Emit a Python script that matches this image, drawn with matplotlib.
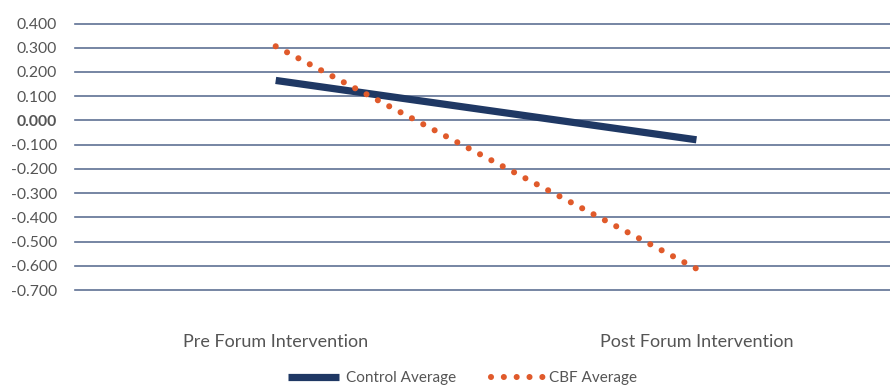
import matplotlib
matplotlib.use("Agg")
import matplotlib.pyplot as plt
from matplotlib.lines import Line2D

categories = ["Pre Forum Intervention", "Post Forum Intervention"]
control_avg = [0.165, -0.080]
cbf_avg = [0.306, -0.612]
yticks = [0.4, 0.3, 0.2, 0.1, 0.0, -0.1, -0.2, -0.3, -0.4, -0.5, -0.6, -0.7]

plt.rcParams['font.family'] = ['Lato', 'DejaVu Sans']

navy = '#1f3864'
orange = '#e05a2b'
grid_c = '#5f7194'
text_c = '#555555'

fig = plt.figure(figsize=(8.9, 3.89), dpi=100)
ax = fig.add_axes([75/890, 1-290/389, 1-75/890, (290-23.5)/389])

x = list(range(len(categories)))
ax.plot(x, control_avg, color=navy, lw=5.2, solid_capstyle='butt', zorder=3)
ax.plot(x, cbf_avg, color=orange, lw=4.4, linestyle=(0, (0.001, 2.1)),
        dash_capstyle='round', zorder=3)

for v in yticks:
    ax.axhline(v, color=grid_c, lw=1.2, zorder=1, clip_on=False)

ax.set_xlim(-0.477, 1.46)
ax.set_ylim(-0.7, 0.4)
ax.set_yticks(yticks)
ax.set_yticklabels([f"{v:.3f}" for v in yticks], fontsize=11.3, color=text_c)
for lbl in ax.get_yticklabels():
    if lbl.get_text() == "0.000":
        lbl.set_fontweight('bold')
ax.tick_params(axis='y', length=0, pad=13)
ax.set_xticks(x)
ax.set_xticklabels(categories, fontsize=13, color='#555555')
ax.tick_params(axis='x', length=0, pad=32)
for s in ax.spines.values():
    s.set_visible(False)

handles = [
    Line2D([], [], color=navy, lw=5.2, solid_capstyle='butt'),
    Line2D([], [], color=orange, lw=4.4, linestyle=(0, (0.001, 2.1)), dash_capstyle='round'),
]
fig.legend(handles, ["Control Average", "CBF Average"], loc='lower center',
           bbox_to_anchor=(0.52, -0.025), ncol=2, frameon=False, fontsize=11,
           handlelength=3.35, columnspacing=2.3, handletextpad=0.45,
           labelcolor='#555555')

fig.savefig("out.png", dpi=100)
